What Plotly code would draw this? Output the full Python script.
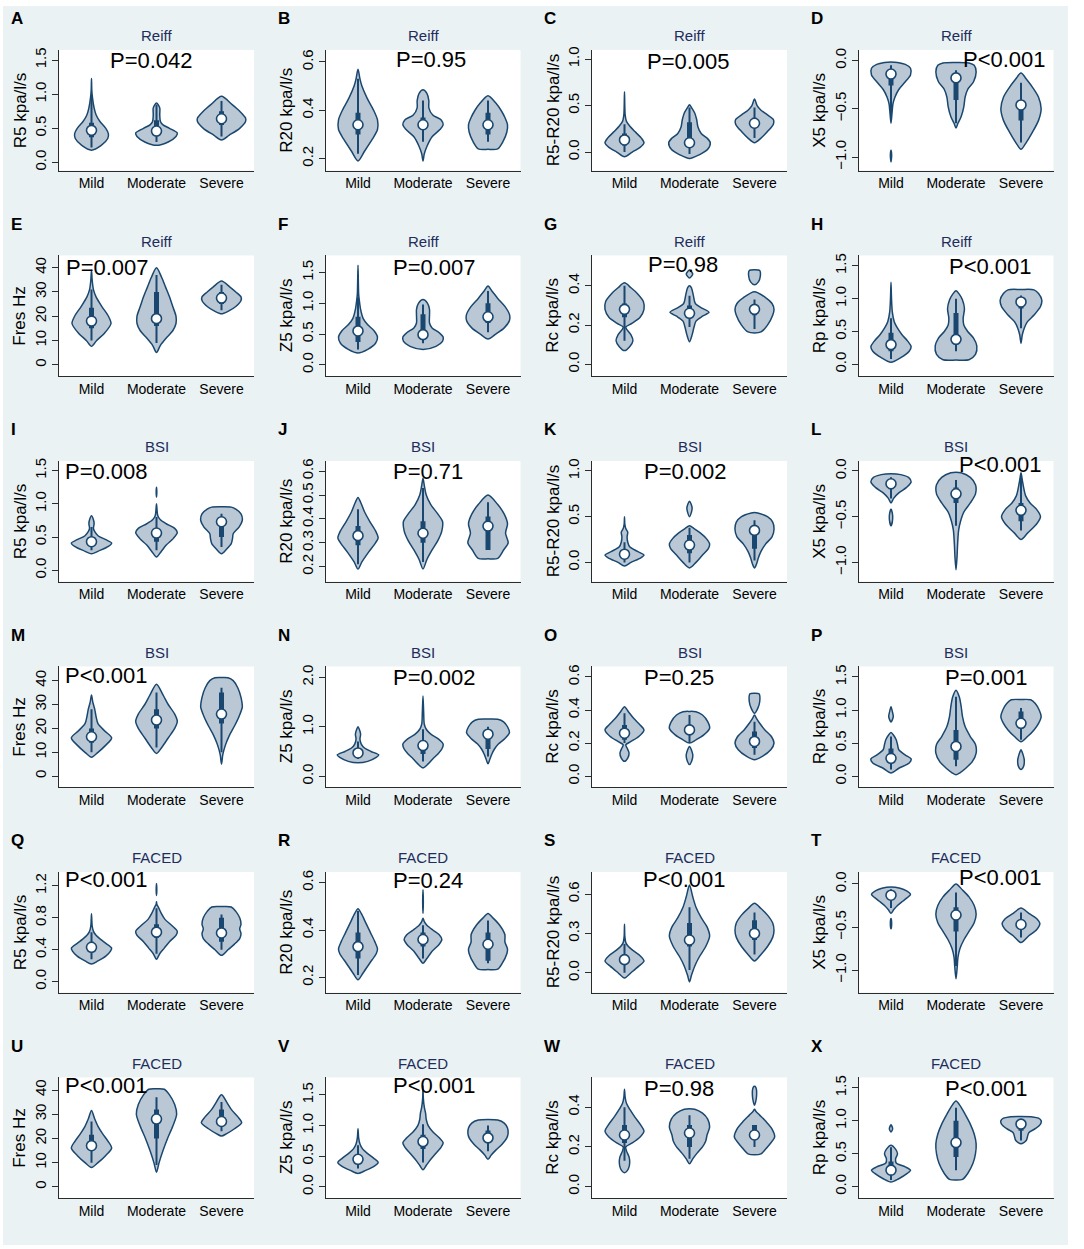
import plotly.graph_objects as go

# Data =========================================================================
groups = ["Mild", "Moderate", "Severe"]
panel_letters = list("ABCDEFGHIJKLMNOPQRSTUVWX")
methods = ["Reiff"] * 8 + ["BSI"] * 8 + ["FACED"] * 8
measures = ["R5 kpa/l/s", "R20 kpa/l/s", "R5-R20 kpa/l/s", "X5 kpa/l/s",
            "Fres Hz", "Z5 kpa/l/s", "Rc kpa/l/s", "Rp kpa/l/s"] * 3
p_values = ["P=0.042", "P=0.95", "P=0.005", "P<0.001",
            "P=0.007", "P=0.007", "P=0.98", "P<0.001",
            "P=0.008", "P=0.71", "P=0.002", "P<0.001",
            "P<0.001", "P=0.002", "P=0.25", "P=0.001",
            "P<0.001", "P=0.24", "P<0.001", "P<0.001",
            "P<0.001", "P<0.001", "P=0.98", "P<0.001"]

y_ticks = [
    [0, 0.5, 1, 1.5], [0.2, 0.4, 0.6], [0, 0.5, 1], [-1, -0.5, 0],
    [0, 10, 20, 30, 40], [0, 0.5, 1, 1.5], [0, 0.2, 0.4], [0, 0.5, 1, 1.5],
    [0, 0.5, 1, 1.5], [0.2, 0.3, 0.4, 0.5, 0.6], [0, 0.5, 1], [-1, -0.5, 0],
    [0, 10, 20, 30, 40], [0, 1, 2], [0, 0.2, 0.4, 0.6], [0, 0.5, 1, 1.5],
    [0, 0.4, 0.8, 1.2], [0.2, 0.4, 0.6], [0, 0.3, 0.6], [-1, -0.5, 0],
    [0, 10, 20, 30, 40], [0, 0.5, 1, 1.5], [0, 0.2, 0.4], [0, 0.5, 1, 1.5],
]

# box-plot statistics per panel: [Mild, Moderate, Severe]
medians = [
    [0.47, 0.46, 0.64], [0.34, 0.34, 0.34], [0.13, 0.10, 0.31], [-0.14, -0.18, -0.46],
    [18, 19, 27.5], [0.55, 0.49, 0.78], [0.28, 0.26, 0.28], [0.30, 0.38, 0.95],
    [0.43, 0.56, 0.73], [0.33, 0.34, 0.37], [0.09, 0.19, 0.35], [-0.14, -0.25, -0.43],
    [16.5, 23.5, 26], [0.47, 0.62, 0.85], [0.26, 0.28, 0.21], [0.27, 0.45, 0.80],
    [0.43, 0.62, 0.61], [0.33, 0.36, 0.34], [0.10, 0.25, 0.30], [-0.13, -0.36, -0.47],
    [17, 28, 27], [0.45, 0.74, 0.80], [0.26, 0.27, 0.26], [0.25, 0.67, 0.95],
]
q1 = [
    [0.37, 0.40, 0.55], [0.30, 0.32, 0.30], [0.07, 0.05, 0.26], [-0.26, -0.41, -0.62],
    [15, 16, 25], [0.37, 0.42, 0.68], [0.24, 0.24, 0.25], [0.20, 0.30, 0.85],
    [0.38, 0.43, 0.50], [0.29, 0.30, 0.27], [0.06, 0.10, 0.15], [-0.20, -0.35, -0.55],
    [14, 20, 22], [0.40, 0.45, 0.55], [0.22, 0.26, 0.17], [0.22, 0.25, 0.72],
    [0.37, 0.55, 0.50], [0.28, 0.33, 0.27], [0.07, 0.20, 0.25], [-0.18, -0.55, -0.52],
    [15, 20, 25], [0.38, 0.62, 0.72], [0.22, 0.20, 0.24], [0.20, 0.45, 0.85],
]
q3 = [
    [0.58, 0.62, 0.75], [0.39, 0.37, 0.39], [0.20, 0.32, 0.37], [-0.10, -0.20, -0.45],
    [23.5, 30, 30], [0.78, 0.82, 1.0], [0.31, 0.30, 0.30], [0.48, 0.78, 1.0],
    [0.50, 0.62, 0.80], [0.37, 0.39, 0.41], [0.14, 0.30, 0.40], [-0.10, -0.18, -0.35],
    [20, 28, 35], [0.55, 0.72, 0.95], [0.31, 0.31, 0.27], [0.42, 0.70, 0.98],
    [0.50, 0.72, 0.80], [0.39, 0.39, 0.39], [0.14, 0.38, 0.40], [-0.10, -0.27, -0.42],
    [21.5, 32, 32], [0.52, 0.85, 0.92], [0.31, 0.31, 0.31], [0.38, 1.0, 1.0],
]
whisker_lo = [
    [0.22, 0.30, 0.38], [0.22, 0.27, 0.27], [0.0, -0.02, 0.15], [-0.62, -0.65, -0.85],
    [10, 9, 22.5], [0.25, 0.35, 0.53], [0.12, 0.19, 0.18], [0.08, 0.20, 0.55],
    [0.30, 0.30, 0.35], [0.21, 0.22, 0.27], [0.0, 0.0, 0.02], [-0.30, -0.60, -0.65],
    [10, 12, 10], [0.35, 0.30, 0.40], [0.20, 0.20, 0.13], [0.10, 0.15, 0.55],
    [0.28, 0.35, 0.40], [0.21, 0.28, 0.26], [0.0, 0.02, 0.14], [-0.28, -0.95, -0.62],
    [10, 9, 23], [0.30, 0.40, 0.58], [0.13, 0.14, 0.20], [0.10, 0.25, 0.70],
]
whisker_hi = [
    [0.98, 0.85, 0.90], [0.53, 0.44, 0.44], [0.30, 0.48, 0.48], [-0.05, -0.10, -0.23],
    [31, 37, 33], [1.10, 0.98, 1.20], [0.40, 0.35, 0.33], [0.70, 1.0, 1.05],
    [0.65, 0.80, 0.85], [0.44, 0.53, 0.47], [0.22, 0.38, 0.46], [-0.07, -0.10, -0.05],
    [28, 35, 37], [0.70, 0.95, 1.0], [0.38, 0.37, 0.33], [0.60, 1.20, 1.03],
    [0.62, 0.92, 0.84], [0.48, 0.42, 0.44], [0.22, 0.50, 0.46], [-0.06, -0.10, -0.33],
    [27, 37, 35], [0.68, 1.02, 1.0], [0.40, 0.36, 0.31], [0.60, 1.20, 1.0],
]

# violin outlines: per group a list of pieces, each piece = (value, density half-width)
shape_A = [
    [[(0.18, 0), (0.25, 0.15), (0.35, 0.25), (0.42, 0.26), (0.5, 0.22), (0.6, 0.13), (0.7, 0.07),
      (0.8, 0.04), (0.95, 0.015), (1.05, 0.005), (1.23, 0)]],
    [[(0.25, 0), (0.3, 0.18), (0.38, 0.3), (0.43, 0.32), (0.5, 0.2), (0.55, 0.1), (0.6, 0.06),
      (0.7, 0.05), (0.8, 0.05), (0.87, 0)]],
    [[(0.33, 0), (0.4, 0.12), (0.5, 0.28), (0.6, 0.37), (0.65, 0.37), (0.75, 0.28), (0.85, 0.16),
      (0.97, 0)]],
]
shape_B = [
    [[(0.19, 0), (0.23, 0.1), (0.28, 0.22), (0.32, 0.3), (0.36, 0.3), (0.4, 0.24), (0.45, 0.14),
      (0.5, 0.06), (0.53, 0.03), (0.57, 0)]],
    [[(0.19, 0), (0.22, 0.02), (0.25, 0.06), (0.29, 0.14), (0.32, 0.26), (0.34, 0.31), (0.36, 0.28),
      (0.38, 0.15), (0.41, 0.09), (0.44, 0.09), (0.47, 0.06), (0.485, 0)]],
    [[(0.238, 0), (0.24, 0.15), (0.27, 0.23), (0.31, 0.29), (0.34, 0.3), (0.37, 0.26), (0.4, 0.2),
      (0.43, 0.12), (0.46, 0)]],
]
shape_C = [
    [[(-0.05, 0), (0.0, 0.12), (0.05, 0.24), (0.1, 0.3), (0.15, 0.26), (0.22, 0.16), (0.28, 0.08),
      (0.33, 0.03), (0.4, 0.01), (0.65, 0)]],
    [[(-0.07, 0), (-0.03, 0.15), (0.03, 0.28), (0.1, 0.32), (0.15, 0.27), (0.2, 0.18), (0.27, 0.13),
      (0.35, 0.11), (0.42, 0.08), (0.48, 0.03), (0.51, 0)]],
    [[(0.1, 0), (0.15, 0.1), (0.22, 0.2), (0.3, 0.29), (0.35, 0.29), (0.4, 0.2), (0.45, 0.1),
      (0.5, 0.04), (0.57, 0)]],
]
shape_D = [
    [[(-0.65, 0), (-0.55, 0.015), (-0.45, 0.03), (-0.38, 0.06), (-0.3, 0.12), (-0.22, 0.22),
      (-0.15, 0.3), (-0.08, 0.3), (-0.04, 0.22), (-0.02, 0.1), (-0.015, 0)],
     [(-1.05, 0), (-0.98, 0.01), (-0.93, 0)]],
    [[(-0.7, 0), (-0.65, 0.03), (-0.58, 0.08), (-0.48, 0.12), (-0.38, 0.14), (-0.3, 0.18),
      (-0.22, 0.27), (-0.12, 0.31), (-0.05, 0.28), (-0.025, 0.2), (-0.02, 0)]],
    [[(-0.92, 0), (-0.85, 0.08), (-0.75, 0.17), (-0.62, 0.27), (-0.5, 0.31), (-0.38, 0.27),
      (-0.28, 0.18), (-0.2, 0.09), (-0.13, 0)]],
]
shape_E = [
    [[(7.6, 0), (10, 0.08), (13, 0.2), (17, 0.3), (20, 0.26), (24, 0.16), (28, 0.07), (31, 0.03),
      (35, 0.01), (39, 0)]],
    [[(5, 0), (8, 0.06), (11, 0.15), (14, 0.25), (17, 0.3), (20, 0.3), (24, 0.25), (28, 0.2),
      (32, 0.14), (36, 0.08), (40, 0)]],
    [[(21, 0), (22, 0.1), (24, 0.22), (26.5, 0.3), (28, 0.3), (30, 0.22), (32, 0.13), (34.5, 0)]],
]
shape_F = [
    [[(0.19, 0), (0.25, 0.15), (0.35, 0.27), (0.45, 0.3), (0.55, 0.25), (0.65, 0.15), (0.75, 0.08),
      (0.9, 0.04), (1.05, 0.02), (1.15, 0.01), (1.62, 0)]],
    [[(0.25, 0), (0.3, 0.2), (0.38, 0.3), (0.45, 0.31), (0.52, 0.25), (0.6, 0.14), (0.68, 0.1),
      (0.8, 0.1), (0.9, 0.1), (1.0, 0.07), (1.06, 0)]],
    [[(0.42, 0), (0.5, 0.12), (0.6, 0.25), (0.72, 0.33), (0.82, 0.33), (0.95, 0.26), (1.08, 0.15),
      (1.2, 0.06), (1.28, 0)]],
]
shape_G = [
    [[(0.07, 0), (0.09, 0.08), (0.12, 0.13), (0.15, 0.1), (0.18, 0.03), (0.19, 0.02), (0.21, 0.12),
      (0.24, 0.24), (0.28, 0.3), (0.32, 0.29), (0.36, 0.2), (0.39, 0.1), (0.415, 0)]],
    [[(0.115, 0), (0.15, 0.04), (0.19, 0.07), (0.22, 0.1), (0.245, 0.2), (0.265, 0.3), (0.285, 0.2),
      (0.31, 0.09), (0.35, 0.06), (0.39, 0.03), (0.4, 0)],
     [(0.44, 0), (0.46, 0.05), (0.48, 0)]],
    [[(0.16, 0), (0.165, 0.1), (0.2, 0.2), (0.25, 0.28), (0.28, 0.3), (0.31, 0.27), (0.34, 0.17),
      (0.37, 0)],
     [(0.405, 0), (0.42, 0.06), (0.45, 0.09), (0.478, 0.08), (0.482, 0)]],
]
shape_H = [
    [[(0.03, 0), (0.1, 0.15), (0.2, 0.28), (0.27, 0.31), (0.35, 0.26), (0.45, 0.17), (0.55, 0.1),
      (0.65, 0.05), (0.8, 0.02), (1.0, 0.008), (1.25, 0)]],
    [[(0.065, 0), (0.07, 0.2), (0.15, 0.3), (0.28, 0.32), (0.4, 0.27), (0.5, 0.18), (0.6, 0.12),
      (0.7, 0.11), (0.85, 0.13), (0.98, 0.1), (1.07, 0.05), (1.12, 0)]],
    [[(0.32, 0), (0.45, 0.02), (0.55, 0.05), (0.65, 0.1), (0.75, 0.2), (0.88, 0.3), (0.98, 0.32),
      (1.08, 0.27), (1.135, 0.2), (1.14, 0)]],
]
shape_I = [
    [[(0.25, 0), (0.3, 0.13), (0.36, 0.26), (0.41, 0.31), (0.46, 0.22), (0.52, 0.1), (0.58, 0.05),
      (0.63, 0.03), (0.7, 0.04), (0.76, 0.03), (0.82, 0)]],
    [[(0.2, 0), (0.28, 0.07), (0.38, 0.15), (0.48, 0.26), (0.57, 0.32), (0.63, 0.28), (0.7, 0.15),
      (0.76, 0.06), (0.82, 0.02), (0.95, 0.005), (1.0, 0)],
     [(1.1, 0), (1.18, 0.005), (1.25, 0)]],
    [[(0.25, 0), (0.32, 0.08), (0.4, 0.15), (0.48, 0.17), (0.55, 0.18), (0.65, 0.27), (0.75, 0.32),
      (0.85, 0.3), (0.92, 0.22), (0.95, 0.15), (0.955, 0)]],
]
shape_J = [
    [[(0.19, 0), (0.22, 0.06), (0.26, 0.16), (0.3, 0.27), (0.32, 0.31), (0.35, 0.27), (0.39, 0.18),
      (0.43, 0.1), (0.47, 0.04), (0.49, 0)]],
    [[(0.19, 0), (0.23, 0.06), (0.27, 0.14), (0.31, 0.23), (0.35, 0.29), (0.39, 0.3), (0.42, 0.23),
      (0.46, 0.12), (0.5, 0.05), (0.54, 0.02), (0.57, 0)]],
    [[(0.233, 0), (0.235, 0.15), (0.27, 0.24), (0.3, 0.31), (0.34, 0.27), (0.38, 0.3), (0.42, 0.25),
      (0.46, 0.15), (0.5, 0)]],
]
shape_K = [
    [[(-0.04, 0), (0.0, 0.1), (0.05, 0.25), (0.08, 0.3), (0.12, 0.2), (0.17, 0.08), (0.22, 0.05),
      (0.28, 0.04), (0.33, 0.05), (0.37, 0.02), (0.42, 0.005), (0.5, 0)]],
    [[(-0.06, 0), (0.0, 0.1), (0.08, 0.2), (0.15, 0.29), (0.2, 0.31), (0.26, 0.26), (0.32, 0.17),
      (0.37, 0.07), (0.4, 0)],
     [(0.5, 0), (0.55, 0.03), (0.6, 0.04), (0.67, 0)]],
    [[(-0.06, 0), (-0.02, 0.03), (0.05, 0.06), (0.12, 0.1), (0.2, 0.17), (0.28, 0.27), (0.36, 0.3),
      (0.44, 0.28), (0.5, 0.2), (0.54, 0.05), (0.545, 0)]],
]
shape_L = [
    [[(-0.35, 0), (-0.3, 0.04), (-0.24, 0.12), (-0.18, 0.24), (-0.12, 0.31), (-0.07, 0.27),
      (-0.04, 0.15), (-0.03, 0)],
     [(-0.6, 0), (-0.53, 0.025), (-0.46, 0.02), (-0.42, 0)]],
    [[(-1.08, 0), (-0.95, 0.015), (-0.8, 0.025), (-0.65, 0.04), (-0.55, 0.07), (-0.45, 0.12),
      (-0.35, 0.22), (-0.25, 0.3), (-0.15, 0.3), (-0.07, 0.22), (-0.02, 0.08), (-0.015, 0)]],
    [[(-0.75, 0), (-0.68, 0.1), (-0.58, 0.24), (-0.5, 0.3), (-0.42, 0.24), (-0.35, 0.14),
      (-0.27, 0.07), (-0.18, 0.04), (-0.1, 0.02), (-0.02, 0)]],
]
shape_M = [
    [[(7.9, 0), (10, 0.1), (13, 0.22), (16, 0.31), (19, 0.2), (22, 0.1), (25, 0.07), (28, 0.05),
      (31, 0.02), (34, 0)]],
    [[(9.5, 0), (12, 0.08), (16, 0.18), (20, 0.28), (23, 0.32), (26, 0.28), (30, 0.18), (34, 0.1),
      (38.5, 0)]],
    [[(5, 0), (9, 0.02), (13, 0.06), (17, 0.12), (21, 0.2), (25, 0.27), (29, 0.32), (33, 0.3),
      (37, 0.25), (40, 0.18), (41.2, 0.1), (41.3, 0)]],
]
shape_N = [
    [[(0.27, 0), (0.3, 0.15), (0.38, 0.28), (0.43, 0.32), (0.5, 0.2), (0.57, 0.1), (0.65, 0.05),
      (0.75, 0.03), (0.85, 0.04), (0.95, 0.02), (1.0, 0)]],
    [[(0.17, 0), (0.25, 0.08), (0.35, 0.15), (0.45, 0.23), (0.55, 0.29), (0.65, 0.31), (0.75, 0.24),
      (0.85, 0.12), (0.95, 0.05), (1.05, 0.02), (1.3, 0.01), (1.62, 0)]],
    [[(0.25, 0), (0.35, 0.03), (0.45, 0.06), (0.55, 0.1), (0.65, 0.16), (0.75, 0.25), (0.88, 0.33),
      (1.0, 0.3), (1.1, 0.24), (1.15, 0.15), (1.155, 0)]],
]
shape_O = [
    [[(0.09, 0), (0.11, 0.05), (0.14, 0.07), (0.17, 0.04), (0.19, 0.02), (0.21, 0.1), (0.24, 0.22),
      (0.28, 0.3), (0.31, 0.24), (0.35, 0.14), (0.39, 0.06), (0.42, 0)]],
    [[(0.2, 0), (0.22, 0.1), (0.25, 0.22), (0.29, 0.31), (0.33, 0.28), (0.37, 0.2), (0.39, 0.1),
      (0.392, 0)],
     [(0.07, 0), (0.1, 0.04), (0.13, 0.05), (0.18, 0)]],
    [[(0.1, 0), (0.12, 0.12), (0.16, 0.25), (0.2, 0.3), (0.24, 0.26), (0.28, 0.16), (0.32, 0.08),
      (0.35, 0.03), (0.37, 0)],
     [(0.38, 0), (0.41, 0.05), (0.45, 0.08), (0.498, 0.07), (0.502, 0)]],
]
shape_P = [
    [[(0.05, 0), (0.12, 0.12), (0.2, 0.28), (0.26, 0.31), (0.32, 0.22), (0.4, 0.12), (0.48, 0.1),
      (0.55, 0.08), (0.62, 0.04), (0.66, 0)],
     [(0.82, 0), (0.9, 0.035), (0.98, 0.02), (1.05, 0)]],
    [[(0.02, 0), (0.05, 0.06), (0.12, 0.15), (0.22, 0.25), (0.35, 0.31), (0.48, 0.3), (0.6, 0.22),
      (0.75, 0.14), (0.9, 0.1), (1.05, 0.08), (1.2, 0.05), (1.3, 0)]],
    [[(0.52, 0), (0.6, 0.1), (0.7, 0.2), (0.8, 0.27), (0.9, 0.31), (1.0, 0.28), (1.1, 0.22),
      (1.155, 0.15), (1.16, 0)],
     [(0.1, 0), (0.15, 0.04), (0.25, 0.05), (0.33, 0.03), (0.4, 0)]],
]
shape_Q = [
    [[(0.22, 0), (0.26, 0.1), (0.32, 0.22), (0.38, 0.29), (0.42, 0.31), (0.48, 0.22), (0.53, 0.14),
      (0.58, 0.07), (0.63, 0.03), (0.7, 0.01), (0.85, 0)]],
    [[(0.28, 0), (0.35, 0.05), (0.42, 0.12), (0.5, 0.2), (0.58, 0.3), (0.63, 0.32), (0.7, 0.24),
      (0.78, 0.13), (0.86, 0.07), (0.93, 0.03), (0.97, 0.005), (1.0, 0)],
     [(1.08, 0), (1.15, 0.005), (1.23, 0)]],
    [[(0.33, 0), (0.4, 0.1), (0.47, 0.2), (0.54, 0.28), (0.6, 0.3), (0.66, 0.28), (0.72, 0.3),
      (0.8, 0.28), (0.88, 0.22), (0.935, 0.15), (0.94, 0)]],
]
shape_R = [
    [[(0.19, 0), (0.22, 0.08), (0.26, 0.18), (0.3, 0.28), (0.32, 0.3), (0.35, 0.26), (0.39, 0.19),
      (0.43, 0.12), (0.47, 0.05), (0.49, 0)]],
    [[(0.26, 0), (0.28, 0.06), (0.31, 0.14), (0.34, 0.25), (0.36, 0.29), (0.38, 0.25), (0.4, 0.15),
      (0.42, 0.06), (0.435, 0.02), (0.45, 0)],
     [(0.47, 0), (0.52, 0.005), (0.57, 0)]],
    [[(0.233, 0), (0.235, 0.15), (0.26, 0.22), (0.3, 0.29), (0.32, 0.3), (0.35, 0.26), (0.38, 0.26),
      (0.42, 0.18), (0.45, 0.08), (0.47, 0)]],
]
shape_S = [
    [[(-0.04, 0), (0.0, 0.1), (0.05, 0.22), (0.09, 0.3), (0.13, 0.24), (0.17, 0.13), (0.2, 0.06),
      (0.23, 0.02), (0.28, 0.005), (0.37, 0)]],
    [[(-0.07, 0), (-0.02, 0.03), (0.05, 0.08), (0.12, 0.15), (0.2, 0.25), (0.28, 0.31), (0.35, 0.27),
      (0.42, 0.18), (0.5, 0.1), (0.58, 0.05), (0.67, 0)]],
    [[(0.09, 0), (0.14, 0.1), (0.2, 0.2), (0.27, 0.28), (0.32, 0.3), (0.38, 0.28), (0.44, 0.2),
      (0.49, 0.1), (0.53, 0)]],
]
shape_T = [
    [[(-0.34, 0), (-0.3, 0.04), (-0.25, 0.1), (-0.2, 0.18), (-0.14, 0.28), (-0.12, 0.3),
      (-0.08, 0.24), (-0.05, 0.14), (-0.035, 0)],
     [(-0.52, 0), (-0.46, 0.01), (-0.4, 0)]],
    [[(-1.1, 0), (-0.95, 0.02), (-0.85, 0.03), (-0.75, 0.06), (-0.65, 0.12), (-0.55, 0.2),
      (-0.45, 0.28), (-0.35, 0.31), (-0.25, 0.28), (-0.15, 0.2), (-0.07, 0.1), (0.0, 0)]],
    [[(-0.68, 0), (-0.6, 0.12), (-0.53, 0.24), (-0.46, 0.29), (-0.4, 0.24), (-0.34, 0.12),
      (-0.28, 0)]],
]
shape_U = [
    [[(8, 0), (10, 0.1), (13, 0.22), (16, 0.31), (19, 0.25), (22, 0.17), (25, 0.1), (28, 0.05),
      (31.5, 0)]],
    [[(6, 0), (10, 0.04), (15, 0.1), (20, 0.17), (25, 0.25), (30, 0.31), (34, 0.28), (38, 0.2),
      (40.3, 0.12), (40.5, 0)]],
    [[(21, 0), (22, 0.08), (24, 0.2), (26.5, 0.31), (29, 0.25), (32, 0.15), (35, 0.08), (38, 0)]],
]
shape_V = [
    [[(0.22, 0), (0.27, 0.12), (0.33, 0.24), (0.4, 0.31), (0.47, 0.24), (0.55, 0.14), (0.62, 0.07),
      (0.7, 0.03), (0.8, 0.01), (0.95, 0)]],
    [[(0.28, 0), (0.35, 0.05), (0.45, 0.12), (0.55, 0.2), (0.65, 0.28), (0.72, 0.31), (0.8, 0.25),
      (0.9, 0.15), (1.0, 0.08), (1.1, 0.05), (1.2, 0.04), (1.3, 0.02), (1.45, 0.005), (1.65, 0)]],
    [[(0.45, 0), (0.52, 0.05), (0.6, 0.12), (0.7, 0.22), (0.8, 0.29), (0.88, 0.31), (0.96, 0.3),
      (1.04, 0.25), (1.09, 0.15), (1.1, 0)]],
]
shape_W = [
    [[(0.07, 0), (0.09, 0.06), (0.12, 0.08), (0.15, 0.07), (0.18, 0.03), (0.2, 0.02), (0.22, 0.12),
      (0.25, 0.24), (0.28, 0.3), (0.31, 0.25), (0.35, 0.16), (0.39, 0.08), (0.42, 0.03),
      (0.45, 0.01), (0.49, 0)]],
    [[(0.115, 0), (0.14, 0.05), (0.17, 0.12), (0.2, 0.2), (0.23, 0.25), (0.26, 0.27), (0.3, 0.31),
      (0.34, 0.28), (0.37, 0.2), (0.39, 0.08), (0.392, 0)]],
    [[(0.16, 0), (0.165, 0.1), (0.2, 0.2), (0.25, 0.31), (0.29, 0.27), (0.33, 0.17), (0.36, 0.08),
      (0.38, 0.02), (0.39, 0)],
     [(0.41, 0), (0.45, 0.03), (0.5, 0.02), (0.505, 0)]],
]
shape_X = [
    [[(0.07, 0), (0.12, 0.12), (0.2, 0.25), (0.25, 0.3), (0.3, 0.22), (0.36, 0.08), (0.42, 0.07),
      (0.5, 0.1), (0.57, 0.07), (0.63, 0)],
     [(0.83, 0), (0.88, 0.025), (0.94, 0)]],
    [[(0.1, 0), (0.11, 0.1), (0.2, 0.18), (0.35, 0.26), (0.5, 0.3), (0.65, 0.31), (0.8, 0.28),
      (0.95, 0.22), (1.1, 0.14), (1.22, 0.07), (1.3, 0)]],
    [[(0.65, 0), (0.7, 0.08), (0.76, 0.1), (0.82, 0.12), (0.88, 0.22), (0.95, 0.3), (1.0, 0.31),
      (1.04, 0.27), (1.06, 0.18), (1.065, 0)]],
]
violin_shapes = [shape_A, shape_B, shape_C, shape_D, shape_E, shape_F, shape_G, shape_H,
                 shape_I, shape_J, shape_K, shape_L, shape_M, shape_N, shape_O, shape_P,
                 shape_Q, shape_R, shape_S, shape_T, shape_U, shape_V, shape_W, shape_X]

# Settings =====================================================================
W, H = 1084, 1249
navy = '#1a476f'
fill_colour = 'rgba(26,71,111,0.3)'
title_colour = '#1e2d5c'
graph_bg = '#eaf2f3'
axis_colour = '#2b2b2b'
font_family = 'Liberation Sans, Arial, sans-serif'

y_ranges = [
    [-0.12, 1.65], [0.15, 0.65], [-0.2, 1.1], [-1.14, 0.11],
    [-4.7, 45.1], [-0.185, 1.78], [-0.06, 0.555], [-0.18, 1.66],
    [-0.17, 1.645], [0.1375, 0.643], [-0.21, 1.11], [-1.21, 0.11],
    [-4.57, 45.95], [-0.22, 2.22], [-0.066, 0.664], [-0.165, 1.66],
    [-0.137, 1.374], [0.136, 0.645], [-0.152, 0.77], [-1.26, 0.14],
    [-4.64, 45.2], [-0.183, 1.786], [-0.058, 0.55], [-0.175, 1.66],
]
# P-value label anchor: x in category units, y as fraction of the plot height
p_x = [1.92, 2.12, 1.99, 2.74, 1.25, 2.18, 1.9, 2.53,
       1.23, 2.08, 1.94, 2.69, 1.23, 2.18, 1.84, 2.47,
       1.23, 2.08, 1.92, 2.69, 1.23, 2.18, 1.84, 2.47]
p_y = [0.91, 0.92, 0.9, 0.92, 0.9, 0.9, 0.925, 0.91,
       0.91, 0.91, 0.91, 0.97, 0.925, 0.91, 0.91, 0.91,
       0.94, 0.93, 0.935, 0.95, 0.935, 0.93, 0.91, 0.91]

col_left = [59, 325.5, 592, 858.5]   # y-axis position of each column, px
plot_w, plot_h = 195, 121
row_h = 206


def outline(pieces, centre):
    xs, ys = [], []
    for piece in pieces:
        vals = [p[0] for p in piece]
        wid = [p[1] for p in piece]
        xs += [centre - w for w in wid] + [centre + w for w in wid[::-1]][1:] + [None]
        ys += vals + vals[::-1][1:] + [None]
    return xs, ys


fig = go.Figure()
layout = {}
annotations = []
shapes = [dict(type='rect', xref='paper', yref='paper', layer='below',
               x0=3 / W, x1=1068 / W, y0=1 - 1245 / H, y1=1 - 3 / H,
               fillcolor=graph_bg, line=dict(width=0))]

for i in range(24):
    r, c = divmod(i, 4)
    n = '' if i == 0 else str(i + 1)
    xref, yref = 'x' + n, 'y' + n

    left = col_left[c]
    top = row_h * r + 47
    dom_x = [left / W, (left + plot_w) / W]
    dom_y = [1 - (top + plot_h) / H, 1 - top / H]

    layout['xaxis' + n] = dict(
        domain=dom_x, anchor=yref, range=[0.5, 3.5],
        tickvals=[1, 2, 3], ticktext=groups, ticks='',
        showline=True, linecolor=axis_colour, linewidth=1,
        showgrid=False, zeroline=False,
        tickfont=dict(size=14, color='black', family=font_family),
    )
    is_hz = measures[i].startswith('Fres')
    layout['yaxis' + n] = dict(
        domain=dom_y, anchor=xref, range=y_ranges[i],
        tickvals=y_ticks[i], tickformat='.0f' if is_hz else '.1f',
        ticks='outside', ticklen=6, tickcolor=axis_colour, tickangle=-90,
        showline=True, linecolor=axis_colour, linewidth=1,
        showgrid=False, zeroline=False,
        tickfont=dict(size=15, color='black', family=font_family),
    )

    # white plot region
    shapes.append(dict(type='rect', xref='paper', yref='paper', layer='below',
                       x0=dom_x[0], x1=dom_x[1], y0=dom_y[0], y1=dom_y[1],
                       fillcolor='white', line=dict(width=0)))

    # violins
    for g in range(3):
        vx, vy = outline(violin_shapes[i][g], g + 1)
        fig.add_trace(go.Scatter(
            x=vx, y=vy, xaxis=xref, yaxis=yref, mode='lines', fill='toself',
            fillcolor=fill_colour, line=dict(color=navy, width=1.5, shape='spline', smoothing=0.8),
            showlegend=False, hoverinfo='skip'))

    # whiskers and interquartile bars
    wx, wy, bx, by = [], [], [], []
    for g in range(3):
        wx += [g + 1, g + 1, None]
        wy += [whisker_lo[i][g], whisker_hi[i][g], None]
        bx += [g + 1, g + 1, None]
        by += [q1[i][g], q3[i][g], None]
    fig.add_trace(go.Scatter(x=wx, y=wy, xaxis=xref, yaxis=yref, mode='lines',
                             line=dict(color=navy, width=2), showlegend=False, hoverinfo='skip'))
    fig.add_trace(go.Scatter(x=bx, y=by, xaxis=xref, yaxis=yref, mode='lines',
                             line=dict(color=navy, width=5), showlegend=False, hoverinfo='skip'))
    fig.add_trace(go.Scatter(
        x=[1, 2, 3], y=medians[i], xaxis=xref, yaxis=yref, mode='markers',
        marker=dict(symbol='circle', size=10, color='white', line=dict(color=navy, width=1.6)),
        showlegend=False, hoverinfo='skip'))

    # texts
    annotations.append(dict(
        text='<b>' + panel_letters[i] + '</b>', xref='paper', yref='paper',
        x=(9 + 266.5 * c) / W, y=1 - (row_h * r + 16) / H, xanchor='left', yanchor='middle',
        showarrow=False, font=dict(size=17, color='black', family=font_family)))
    annotations.append(dict(
        text=methods[i], xref='paper', yref='paper',
        x=(left + plot_w / 2) / W, y=1 - (row_h * r + 33) / H, xanchor='center', yanchor='middle',
        showarrow=False, font=dict(size=15, color=title_colour, family=font_family)))
    annotations.append(dict(
        text=measures[i], xref='paper', yref='paper', textangle=-90,
        x=(left - 39) / W, y=1 - (top + plot_h / 2) / H, xanchor='center', yanchor='middle',
        showarrow=False, font=dict(size=17, color='black', family=font_family)))
    annotations.append(dict(
        text=p_values[i], xref=xref, yref=yref + ' domain',
        x=p_x[i], y=p_y[i], xanchor='center', yanchor='middle',
        showarrow=False, font=dict(size=22, color='black', family=font_family)))

fig.update_layout(**layout)
fig.update_layout(
    width=W, height=H,
    margin=dict(l=0, r=0, t=0, b=0),
    paper_bgcolor='white',
    plot_bgcolor='rgba(0,0,0,0)',
    showlegend=False,
    shapes=shapes,
    annotations=annotations,
    font=dict(family=font_family),
)

# drop the browser's default page margin so the figure sits at the window origin
fig.write_html('out.html', config={'displayModeBar': False},
               post_script="document.body.style.margin = '0';")
